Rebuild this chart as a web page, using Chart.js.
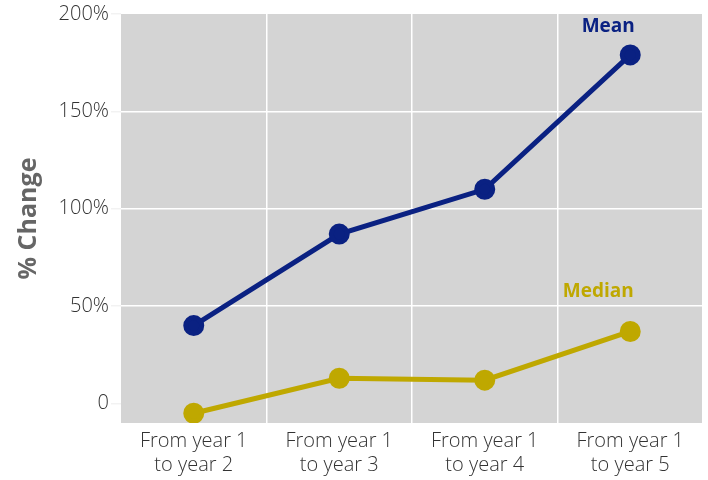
<!DOCTYPE html>
<html lang="en">
<head>
  <meta charset="UTF-8">
  <title>% Change</title>
  <script src="https://cdn.jsdelivr.net/npm/chart.js"></script>
  <style>
    html, body { margin: 0; padding: 0; background: #fff; overflow: hidden; }
    #wrap { width: 708px; height: 480px; }
    canvas { display: block; }
  </style>
</head>
<body>
  <div id="wrap"><canvas id="chart" width="708" height="480"></canvas></div>
  <script>
    const categories = [['From year 1', 'to year 2'], ['From year 1', 'to year 3'], ['From year 1', 'to year 4'], ['From year 1', 'to year 5']];
    const meanValues = [40, 87, 110, 179];
    const medianValues = [-5, 13, 12, 37];
    const yTicks = [0, 50, 100, 150, 200];

    const NAVY = '#0a2182';
    const GOLD = '#bfa800';

    // gray plot background
    const plotBg = {
      id: 'plotBg',
      beforeDraw(chart) {
        const a = chart.chartArea, ctx = chart.ctx;
        ctx.save();
        ctx.fillStyle = '#d4d4d4';
        ctx.fillRect(a.left, a.top, a.right - a.left, a.bottom - a.top);
        ctx.restore();
      }
    };

    // series names near the last point
    const seriesLabels = {
      id: 'seriesLabels',
      afterDatasetsDraw(chart) {
        const ctx = chart.ctx;
        const shifts = [[-22, -28], [-32, -40]];
        ctx.save();
        ctx.font = 'bold 19px "Open Sans"';
        ctx.textAlign = 'center';
        ctx.textBaseline = 'middle';
        chart.data.datasets.forEach((ds, i) => {
          const pts = chart.getDatasetMeta(i).data;
          const p = pts[pts.length - 1];
          ctx.fillStyle = ds.borderColor;
          ctx.fillText(ds.label, p.x + shifts[i][0], p.y + shifts[i][1]);
        });
        ctx.restore();
      }
    };

    new Chart(document.getElementById('chart'), {
      type: 'line',
      data: {
        labels: categories,
        datasets: [
          { label: 'Mean', data: meanValues, borderColor: NAVY, backgroundColor: NAVY, borderWidth: 5, pointRadius: 8, pointHoverRadius: 8, tension: 0 },
          { label: 'Median', data: medianValues, borderColor: GOLD, backgroundColor: GOLD, borderWidth: 5, pointRadius: 8, pointHoverRadius: 8, tension: 0 }
        ]
      },
      options: {
        responsive: false,
        animation: false,
        layout: { autoPadding: false, padding: { top: 12, right: 5, left: 0, bottom: 0 } },
        plugins: { legend: { display: false }, tooltip: { enabled: false } },
        scales: {
          x: {
            offset: true,
            grid: {
              offset: true,
              drawTicks: false,
              color: ctx => (ctx.index === 0 ? 'rgba(0,0,0,0)' : '#ffffff'),
              lineWidth: 1.5
            },
            border: { display: false },
            ticks: { color: '#333', font: { family: 'Open Sans', size: 20, weight: '300', lineHeight: 1.2 }, padding: 6, maxRotation: 0 },
            afterFit(scale) {
              scale.height = 57;
              scale.paddingLeft = 0;
              scale.paddingRight = 0;
            }
          },
          y: {
            min: -10,
            max: 200,
            afterBuildTicks(scale) { scale.ticks = yTicks.map(v => ({ value: v })); },
            grid: {
              color: ctx => (ctx.tick && (ctx.tick.value === 0 || ctx.tick.value === 200) ? 'rgba(0,0,0,0)' : '#ffffff'),
              tickColor: '#f2f2f2',
              tickLength: 10,
              lineWidth: 1.5
            },
            border: { display: false },
            ticks: {
              color: '#333',
              font: { family: 'Open Sans', size: 20, weight: '300' },
              padding: 2,
              callback: v => (v === 0 ? '0' : v + '%')
            },
            title: {
              display: true,
              text: '% Change',
              color: '#666',
              font: { family: 'Open Sans', size: 25, weight: 'bold' },
              padding: { top: 14, bottom: 0 }
            },
            afterFit(scale) { scale.width = 121; }
          }
        }
      },
      plugins: [plotBg, seriesLabels]
    });
  </script>
</body>
</html>
